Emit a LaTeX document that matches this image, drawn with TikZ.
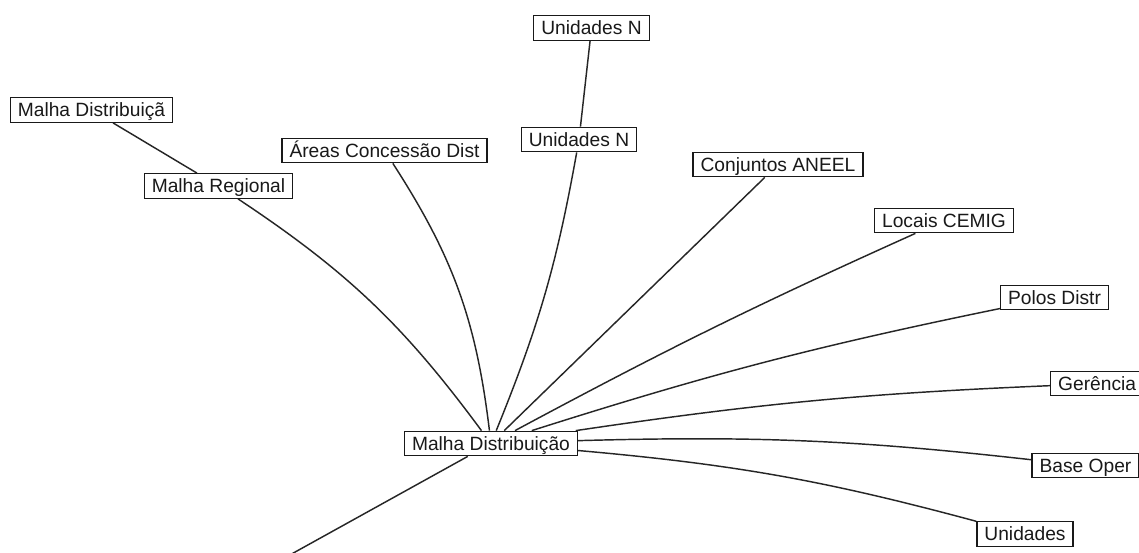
\documentclass[tikz,border=0pt]{standalone}
\usepackage{fontspec}
\setmainfont{Liberation Sans}
\pgfdeclarelayer{wires}
\pgfsetlayers{wires,main}
\begin{document}
\begin{tikzpicture}[x=1pt,y=1pt,
  box/.style={draw=black!90, line width=1.3pt, fill=white, text=black!90,
    font=\fontsize{19.2}{23}\selectfont, inner xsep=7.5pt, inner ysep=0pt,
    text height=19pt, text depth=5.5pt},
  link/.style={draw=black!85, line width=1.45pt}]
  % page frame
  \clip (0,0) rectangle (1139,-552);

  % hub
  \node[box] (md) at (491,-443.5) {Malha Distribuição};

  % branches above and left of the hub
  \node[box] (mdt)   at (91.5,-110)   {Malha Distribuiçã};
  \node[box] (mr)    at (218.5,-186)  {Malha Regional\hspace{6pt}};
  \node[box] (areas) at (384.5,-150.5){Áreas Concessão Dist};
  \node[box] (un1)   at (591.5,-28)   {Unidades N};
  \node[box] (un2)   at (579,-139.5)  {Unidades N};

  % branches to the right of the hub
  \node[box] (conj)   at (778,-164.5)   {Conjuntos ANEEL};
  \node[box] (locais) at (944,-220.5)   {Locais CEMIG};
  \node[box] (polos)  at (1054.5,-297.5){Polos Distr};
  \node[box, anchor=west] (ger) at (1050,-383.5) {Gerência};
  \node[box] (base)   at (1085.5,-465.5){Base Oper};
  \node[box] (unid)   at (1025,-534)    {Unidades\hspace{6pt}};

  % free end of the branch that leaves the frame
  \coordinate (out) at (280.7,-560);

  % connectors, kept behind the boxes
  \begin{pgfonlayer}{wires}
    \fill[white] (0,0) rectangle (1139,-552);
    \path[link] (mdt) -- (mr);
    \path[link] (un2) -- (un1);
    \path[link] (md) to[bend right=10] (mr);
    \path[link] (md) to[bend right=13] (areas);
    \path[link] (md) to[bend right=6] (un2);
    \path[link] (md) -- (conj);
    \path[link] (md) to[bend left=2] (locais);
    \path[link] (md) to[bend left=3] (polos);
    \path[link] (md) to[bend left=3] (ger);
    \path[link] (md) to[bend left=4] (base);
    \path[link] (md) to[bend left=5] (unid);
    \path[link] (md) -- (out);
  \end{pgfonlayer}
\end{tikzpicture}
\end{document}
